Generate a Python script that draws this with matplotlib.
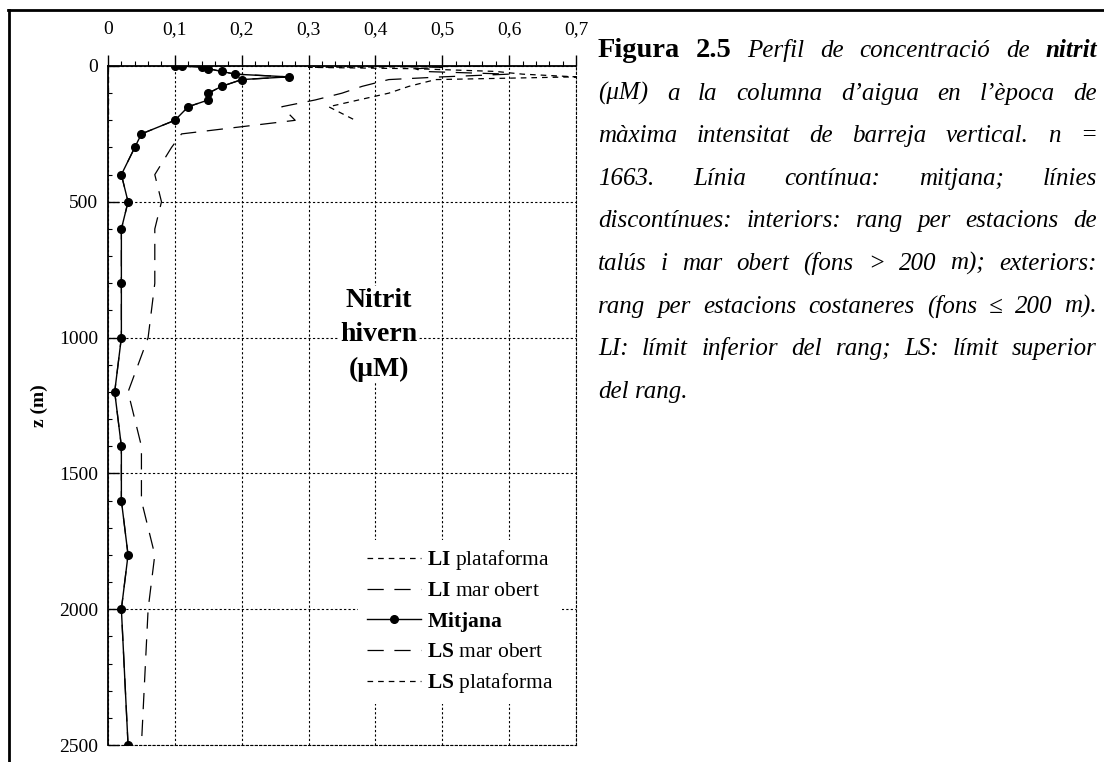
import matplotlib
matplotlib.use("Agg")
import matplotlib.pyplot as plt
from matplotlib.lines import Line2D

plt.rcParams['font.family'] = ['Liberation Serif', 'DejaVu Serif']
plt.rcParams['mathtext.fontset'] = 'custom'
plt.rcParams['mathtext.rm'] = 'Liberation Serif'
plt.rcParams['mathtext.bf'] = 'Liberation Serif:bold'
plt.rcParams['mathtext.it'] = 'Liberation Serif:italic'

# mean profile (depth in m, nitrite in uM)
depth_mean = [0, 0, 5, 10, 20, 30, 40, 50, 75, 100, 125, 150, 200, 250, 300,
              400, 500, 600, 800, 1000, 1200, 1400, 1600, 1800, 2000, 2500]
nitrit_mean = [0.10, 0.11, 0.14, 0.15, 0.17, 0.19, 0.27, 0.20, 0.17, 0.15, 0.15,
               0.12, 0.10, 0.05, 0.04, 0.02, 0.03, 0.02, 0.02, 0.02, 0.01, 0.02,
               0.02, 0.03, 0.02, 0.03]

# lower limits (they lie on the mean / the axis)
depth_li_plat = [0, 5, 10, 20, 30, 40, 50, 75, 100, 150, 200]
nitrit_li_plat = [0.0, 0.0, 0.0, 0.0, 0.0, 0.0, 0.0, 0.0, 0.0, 0.0, 0.0]
depth_li_mar = [0, 0, 5, 10, 20, 30, 40, 50, 75, 100, 125, 150, 200, 250, 300,
                400, 500, 600, 800, 1000, 1200, 1400, 1600, 1800, 2000, 2500]
nitrit_li_mar = [0.10, 0.11, 0.14, 0.15, 0.17, 0.19, 0.27, 0.20, 0.17, 0.15, 0.15,
                 0.12, 0.10, 0.05, 0.04, 0.02, 0.03, 0.02, 0.02, 0.02, 0.01, 0.02,
                 0.02, 0.03, 0.02, 0.03]

# upper limits
depth_ls_mar = [0, 5, 10, 20, 30, 40, 50, 75, 100, 125, 150, 200, 250, 300, 400,
                500, 600, 800, 1000, 1200, 1400, 1600, 1800, 2000, 2500]
nitrit_ls_mar = [0.40, 0.50, 0.46, 0.47, 0.60, 0.50, 0.42, 0.38, 0.35, 0.31, 0.26,
                 0.28, 0.11, 0.095, 0.07, 0.08, 0.07, 0.07, 0.06, 0.03, 0.05, 0.05,
                 0.07, 0.06, 0.05]
depth_ls_plat = [0, 5, 10, 20, 30, 40, 50, 75, 100, 150, 200]
nitrit_ls_plat = [0.62, 0.30, 0.46, 0.58, 0.62, 0.70, 0.49, 0.45, 0.42, 0.33, 0.37]

x_ticks = [0, 0.1, 0.2, 0.3, 0.4, 0.5, 0.6, 0.7]
x_labels = ['0', '0,1', '0,2', '0,3', '0,4', '0,5', '0,6', '0,7']
y_ticks = [0, 500, 1000, 1500, 2000, 2500]

W, H = 1104, 762
fig = plt.figure(figsize=(W / 100, H / 100), dpi=100)
ax = fig.add_axes([108 / W, 17 / H, 468 / W, 679 / H])

short = (0, (4.5, 4))
long_ = (0, (13, 8.5))
ax.plot(nitrit_li_plat, depth_li_plat, color='k', lw=0.9, ls=short,
        label=r'$\mathbf{LI}$ plataforma')
ax.plot(nitrit_li_mar, depth_li_mar, color='k', lw=0.9, ls=long_,
        label=r'$\mathbf{LI}$ mar obert')
ax.plot(nitrit_mean, depth_mean, color='k', lw=1, marker='o', ms=5.5,
        label=r'$\mathbf{Mitjana}$')
ax.plot(nitrit_ls_mar, depth_ls_mar, color='k', lw=0.9, ls=long_,
        label=r'$\mathbf{LS}$ mar obert')
ax.plot(nitrit_ls_plat, depth_ls_plat, color='k', lw=0.9, ls=short,
        label=r'$\mathbf{LS}$ plataforma')

ax.set_xlim(0, 0.7)
ax.set_ylim(2500, 0)
ax.xaxis.tick_top()
ax.set_xticks(x_ticks)
ax.set_xticklabels(x_labels)
ax.set_xticks([i * 0.02 for i in range(36)], minor=True)
ax.set_yticks(y_ticks)
ax.set_yticks(list(range(0, 2600, 100)), minor=True)
ax.tick_params(axis='x', which='major', direction='out', length=8, width=1,
               pad=12, labelsize=14)
ax.tick_params(axis='x', which='minor', direction='out', length=3.6, width=0.8)
ax.tick_params(axis='y', which='major', direction='in', length=8, width=1,
               pad=7, labelsize=14)
ax.tick_params(axis='y', which='minor', direction='in', length=3.2, width=0.8)

ax.grid(True, which='major', color='k', ls=(0, (2, 2)), lw=0.8)
for s in ['right', 'bottom']:
    ax.spines[s].set_linestyle((0, (2, 2)))
    ax.spines[s].set_linewidth(0.8)
for s in ['top', 'left']:
    ax.spines[s].set_linewidth(1.3)

ax.set_ylabel('z (m)', fontsize=14, fontweight='bold', labelpad=8)

ax.text(0.405, 990, 'Nitrit\nhivern\n(μM)', ha='center', va='center',
        fontsize=20, fontweight='bold', linespacing=1.5,
        bbox=dict(fc='white', ec='none', pad=1), zorder=5)

leg = ax.legend(loc='lower left', bbox_to_anchor=(0.512, 0.045), fontsize=15.5,
                handlelength=2.5, handletextpad=0.3, labelspacing=0.4,
                frameon=True, framealpha=1, edgecolor='none', fancybox=False,
                borderpad=0.4, markerfirst=True)
leg.set_zorder(6)

# page frame
fig.add_artist(Line2D([8 / W, 1], [1 - 10 / H] * 2, transform=fig.transFigure,
                      color='k', lw=2))
fig.add_artist(Line2D([9 / W] * 2, [0, 1 - 10 / H], transform=fig.transFigure,
                      color='k', lw=2))

# caption, justified word by word
caption = [
    [('Figura', 'b'), ('2.5', 'b'), ('Perfil', 'i'), ('de', 'i'),
     ('concentració', 'i'), ('de', 'i'), ('nitrit', 'bi')],
    [('(μM)', 'i'), ('a', 'i'), ('la', 'i'), ('columna', 'i'), ('d’aigua', 'i'),
     ('en', 'i'), ('l’època', 'i'), ('de', 'i')],
    [('màxima', 'i'), ('intensitat', 'i'), ('de', 'i'), ('barreja', 'i'),
     ('vertical.', 'i'), ('n', 'i'), ('=', 'i')],
    [('1663.', 'i'), ('Línia', 'i'), ('contínua:', 'i'), ('mitjana;', 'i'),
     ('línies', 'i')],
    [('discontínues:', 'i'), ('interiors:', 'i'), ('rang', 'i'), ('per', 'i'),
     ('estacions', 'i'), ('de', 'i')],
    [('talús', 'i'), ('i', 'i'), ('mar', 'i'), ('obert', 'i'), ('(fons', 'i'),
     ('>', 'i'), ('200', 'i'), ('m);', 'i'), ('exteriors:', 'i')],
    [('rang', 'i'), ('per', 'i'), ('estacions', 'i'), ('costaneres', 'i'),
     ('(fons', 'i'), ('≤', 'i'), ('200', 'i'), ('m).', 'i')],
    [('LI:', 'i'), ('límit', 'i'), ('inferior', 'i'), ('del', 'i'), ('rang;', 'i'),
     ('LS:', 'i'), ('límit', 'i'), ('superior', 'i')],
    [('del', 'i'), ('rang.', 'i')],
]
styles = {
    'b': dict(fontsize=20.5, fontweight='bold', fontstyle='normal'),
    'i': dict(fontsize=18, fontweight='normal', fontstyle='italic'),
    'bi': dict(fontsize=18, fontweight='bold', fontstyle='italic'),
}
x0, x1 = 598, 1097
base0, step = 57, 42.6
renderer = fig.canvas.get_renderer()
for k, line in enumerate(caption):
    yb = 1 - (base0 + k * step) / H
    texts = [fig.text(0, yb, w, va='baseline', ha='left', **styles[s])
             for w, s in line]
    widths = [t.get_window_extent(renderer=renderer).width for t in texts]
    if k < len(caption) - 1:
        gap = (x1 - x0 - sum(widths)) / (len(texts) - 1)
    else:
        gap = 0.25 * 18 * 100 / 72
    x = x0
    for t, w in zip(texts, widths):
        t.set_x(x / W)
        x += w + gap

fig.savefig('out.png', dpi=100)
